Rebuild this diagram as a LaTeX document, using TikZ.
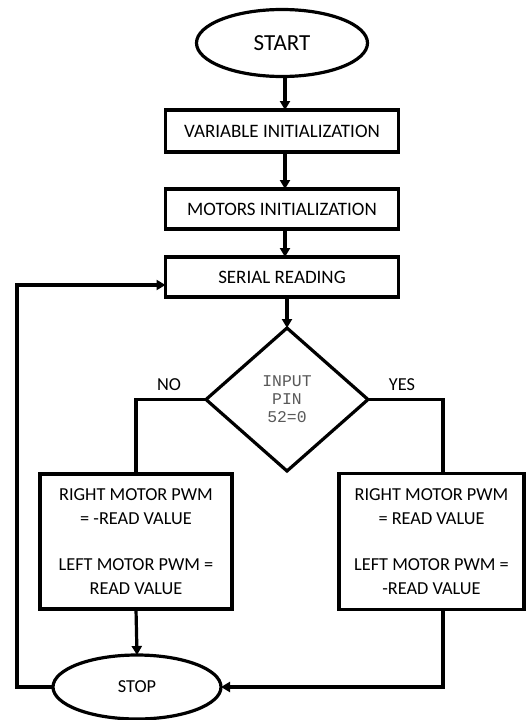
\documentclass[tikz,border=0pt]{standalone}
\usepackage{fontspec}
\setmainfont{Carlito}
\newfontfamily\monofnt{Liberation Mono}
\usetikzlibrary{shapes.geometric,arrows.meta}
\begin{document}
\begin{tikzpicture}[x=1pt,y=-1pt,
  line width=3.2pt,
  arr/.style={-{Triangle[length=9pt,width=10pt]}},
  terminal/.style={draw,ellipse,inner sep=0pt,outer sep=0pt},
  procbox/.style={draw,rectangle,inner sep=0pt,outer sep=0pt,align=center,
    font=\fontsize{19}{24}\selectfont},
  bigbox/.style={draw,rectangle,inner sep=0pt,outer sep=0pt,align=center,
    font=\fontsize{18.3}{24.5}\selectfont},
  decision/.style={draw,diamond,inner sep=0pt,outer sep=0pt,align=center,
    text=black!65,font=\monofnt\fontsize{16.4}{18}\selectfont},
  lbl/.style={font=\fontsize{18.3}{20}\selectfont}]
\useasboundingbox (0,0) rectangle (526,720);

\node[terminal,minimum width=171pt,minimum height=67pt,font=\fontsize{23}{26}\selectfont] (start) at (282,43) {START};
\node[procbox,minimum width=233pt,minimum height=42pt] (var) at (282,131) {VARIABLE INITIALIZATION};
\node[procbox,minimum width=233pt,minimum height=40pt] (mot) at (282,209) {MOTORS INITIALIZATION};
\node[procbox,minimum width=233pt,minimum height=40pt] (ser) at (282,277) {SERIAL READING};
\node[decision,minimum width=162pt,minimum height=143pt] (dec) at (287,399.5) {INPUT\\PIN\\52=0};
\node[bigbox,minimum width=192pt,minimum height=135pt] (lbox) at (136,541.5)
  {RIGHT MOTOR PWM\\= -READ VALUE\\[21pt]LEFT MOTOR PWM =\\READ VALUE};
\node[bigbox,minimum width=185pt,minimum height=136pt] (rbox) at (431.5,541.5)
  {RIGHT MOTOR PWM\\= READ VALUE\\[21pt]LEFT MOTOR PWM =\\-READ VALUE};
\node[terminal,minimum width=168pt,minimum height=64pt,font=\fontsize{18.3}{20}\selectfont] (stop) at (137,687) {STOP};

\node[lbl] (no) at (169,385) {NO};
\node[lbl] (yes) at (402,385) {YES};

\coordinate (rtop) at (443,473);
\coordinate (rbot) at (443,610);

\draw[arr] ([xshift=3pt]start.south) -- ([xshift=3pt]var.north);
\draw[arr] ([xshift=3pt]var.south) -- ([xshift=3pt]mot.north);
\draw[arr] ([xshift=3pt]mot.south) -- ([xshift=3pt]ser.north);
\draw[arr] (ser.south -| dec.north) -- (dec.north);
\draw (dec.west) -| (lbox.north);
\draw (dec.east) -| (rtop);
\draw[arr] (lbox.south) -- (stop.north);
\draw[arr] (rbot) |- (stop.east);
\draw[arr] (stop.west) -- ++(-36,0) |- ([yshift=-8pt]ser.west);
\end{tikzpicture}
\end{document}
